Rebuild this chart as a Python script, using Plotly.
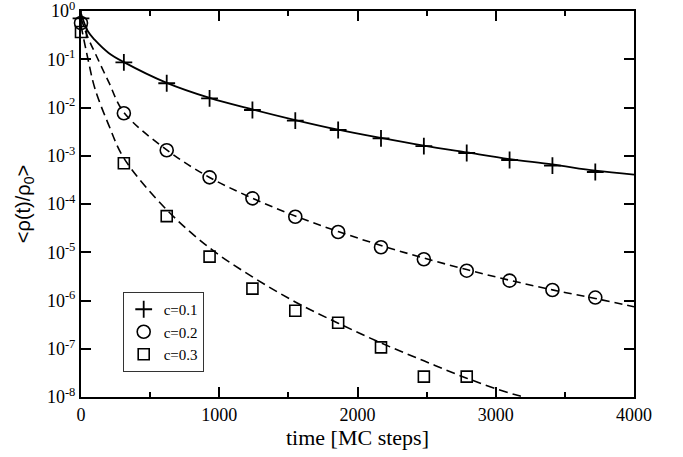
import plotly.graph_objects as go

# measured points (MC steps vs normalised density)
t_pts = [0, 310, 620, 930, 1240, 1550, 1860, 2170, 2480, 2790, 3100, 3410, 3720]
rho_c01 = [0.706, 0.0865, 0.0318, 0.0155, 8.87e-3, 5.32e-3, 3.42e-3, 2.30e-3,
           1.59e-3, 1.14e-3, 8.17e-4, 6.22e-4, 4.61e-4]
rho_c02 = [0.564, 7.6e-3, 1.30e-3, 3.57e-4, 1.31e-4, 5.45e-5, 2.63e-5, 1.27e-5,
           7.15e-6, 4.15e-6, 2.58e-6, 1.65e-6, 1.15e-6]
t_pts_c03 = [0, 310, 620, 930, 1240, 1550, 1860, 2170, 2480, 2790]
rho_c03 = [0.367, 7.0e-4, 5.6e-5, 8.1e-6, 1.76e-6, 6.15e-7, 3.47e-7, 1.07e-7,
           2.64e-8, 2.64e-8]

# fitted curves
fit_t = [0, 50, 100, 200, 310, 620, 930, 1240, 1550, 1860, 2170, 2480, 2790,
         3100, 3410, 3720, 4000]
fit_c01 = [0.891, 0.380, 0.251, 0.135, 0.0871, 0.0324, 0.0158, 9.12e-3, 5.50e-3,
           3.47e-3, 2.34e-3, 1.62e-3, 1.17e-3, 8.51e-4, 6.61e-4, 4.90e-4, 4.07e-4]
fit_c02 = [0.708, 0.282, 0.138, 0.0339, 7.94e-3, 1.32e-3, 3.55e-4, 1.32e-4, 5.62e-5,
           2.69e-5, 1.38e-5, 7.59e-6, 4.37e-6, 2.63e-6, 1.66e-6, 1.10e-6, 7.41e-7]
fit_t_c03 = [0, 50, 100, 200, 310, 620, 930, 1240, 1550, 1860, 2170, 2480, 2790,
             3100, 3200, 3300]
fit_c03 = [0.501, 0.102, 0.0251, 4.37e-3, 8.91e-4, 7.59e-5, 1.23e-5, 3.09e-6,
           9.33e-7, 3.39e-7, 1.32e-7, 5.62e-8, 2.45e-8, 1.20e-8, 1.0e-8, 7.94e-9]

series_names = ["c=0.1", "c=0.2", "c=0.3"]
y_tickvals = [10.0 ** -k for k in range(0, 9)]
y_ticktext = ["10<sup>%s</sup>" % ("0" if k == 0 else "-%d" % k) for k in range(0, 9)]

serif = "Liberation Serif"

fig = go.Figure()

# markers (legend entries)
fig.add_trace(go.Scatter(x=t_pts, y=rho_c01, mode="markers", name=series_names[0],
                         cliponaxis=False,
                         marker=dict(symbol="cross-thin", size=12, color="black",
                                     line=dict(color="black", width=1.8))))
fig.add_trace(go.Scatter(x=t_pts, y=rho_c02, mode="markers", name=series_names[1],
                         cliponaxis=False,
                         marker=dict(symbol="circle-open", size=13, color="black",
                                     line=dict(color="black", width=1.6))))
fig.add_trace(go.Scatter(x=t_pts_c03, y=rho_c03, mode="markers", name=series_names[2],
                         cliponaxis=False,
                         marker=dict(symbol="square-open", size=11, color="black",
                                     line=dict(color="black", width=1.6))))

# fit lines
fig.add_trace(go.Scatter(x=fit_t, y=fit_c01, mode="lines", showlegend=False,
                         line=dict(color="black", width=1.8, shape="spline")))
fig.add_trace(go.Scatter(x=fit_t, y=fit_c02, mode="lines", showlegend=False,
                         line=dict(color="black", width=1.6, dash="8px,5px", shape="spline")))
fig.add_trace(go.Scatter(x=fit_t_c03, y=fit_c03, mode="lines", showlegend=False,
                         line=dict(color="black", width=1.6, dash="9px,5px", shape="spline")))

fig.update_layout(
    width=683, height=457,
    margin=dict(l=81, r=49, t=11, b=60, autoexpand=False),
    paper_bgcolor="white", plot_bgcolor="white",
    font=dict(family=serif, color="black", size=17),
    legend=dict(x=0.0754, y=0.272, xanchor="left", yanchor="top",
                bgcolor="white", bordercolor="#333", borderwidth=1,
                font=dict(family=serif, size=15), tracegroupgap=0,
                itemwidth=30),
)

fig.update_xaxes(
    range=[0, 4000], tickvals=[0, 1000, 2000, 3000, 4000], automargin=False,
    ticklabeloverflow="allow",
    ticks="inside", ticklen=10, tickwidth=1.5, tickcolor="black",
    minor=dict(dtick=500, ticks="inside", ticklen=5, tickwidth=1.5, tickcolor="black"),
    showline=True, linecolor="black", linewidth=2, mirror="ticks",
    showgrid=False, zeroline=False,
    tickfont=dict(family=serif, size=18),
    title=dict(text="time [MC steps]", font=dict(family=serif, size=22), standoff=6),
)
fig.update_yaxes(
    type="log", range=[-8, 0], tickvals=y_tickvals, ticktext=y_ticktext, automargin=False,
    ticklabeloverflow="allow",
    ticks="inside", ticklen=10, tickwidth=1.5, tickcolor="black",
    showline=True, linecolor="black", linewidth=2, mirror="ticks",
    showgrid=False, zeroline=False,
    tickfont=dict(family=serif, size=18),
    title=dict(text="&lt;ρ(t)/ρ<sub>0</sub>&gt;",
               font=dict(family="Liberation Sans", size=20), standoff=11),
)

# drop the browser's default body margin so the figure sits at the page corner
fig.write_html("out.html", config={"displayModeBar": False},
               post_script="document.body.style.margin='0';")
